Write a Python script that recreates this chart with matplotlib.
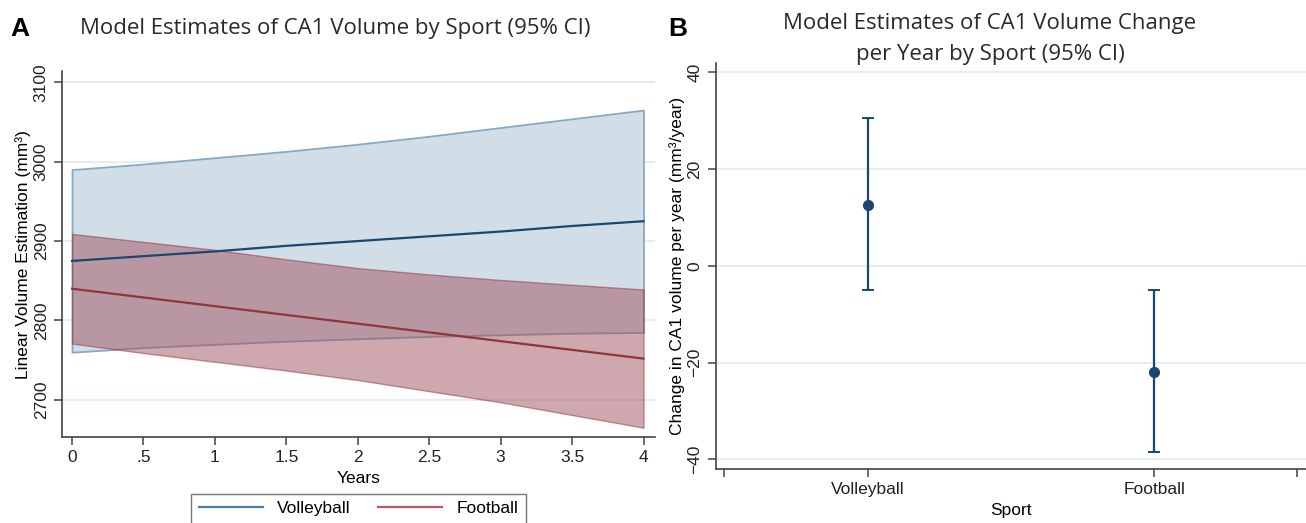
import numpy as np
import matplotlib
matplotlib.use('Agg')
import matplotlib.pyplot as plt
from matplotlib.lines import Line2D

plt.rcParams['font.family'] = ['Liberation Sans', 'DejaVu Sans']

# panel A data
years = [0, 0.5, 1, 1.5, 2, 2.5, 3, 3.5, 4]
vb_mean = [2875, 2881, 2887, 2894, 2900, 2906, 2912, 2919, 2925]
vb_upper = [2990, 2997, 3005, 3013, 3022, 3032, 3043, 3054, 3065]
vb_lower = [2760, 2766, 2770, 2774, 2777, 2780, 2782, 2784, 2785]
fb_mean = [2840, 2829, 2818, 2807, 2796, 2785, 2774, 2763, 2752]
fb_upper = [2909, 2899, 2889, 2877, 2866, 2858, 2851, 2845, 2839]
fb_lower = [2771, 2759, 2748, 2737, 2725, 2711, 2697, 2681, 2665]

# panel B data
sports = ['Volleyball', 'Football']
slope = [12.5, -22.0]
slope_lo = [-5.0, -38.5]
slope_hi = [30.5, -5.0]

BLUE = '#1a476f'
RED = '#90353b'
GRID = '#e6edf1'
AXC = '#444444'

fig = plt.figure(figsize=(13.06, 5.23), dpi=100)

# ---- panel A
ax = fig.add_axes([0.0475, 0.164, 0.454, 0.700])
ax.fill_between(years, vb_lower, vb_upper, facecolor='#d2dee7', edgecolor='#86aac4', linewidth=1.3, zorder=2)
ax.fill_between(years, fb_lower, fb_upper, facecolor='#a0505f', alpha=0.5, edgecolor=RED, linewidth=1.0, zorder=3)
ax.plot(years, vb_mean, color=BLUE, linewidth=1.6, zorder=4)
ax.plot(years, fb_mean, color=RED, linewidth=1.6, zorder=4)
ax.set_xlim(-0.07, 4.08)
ax.set_ylim(2653, 3114)
ax.set_xticks([0, 0.5, 1, 1.5, 2, 2.5, 3, 3.5, 4])
ax.set_xticklabels(['0', '.5', '1', '1.5', '2', '2.5', '3', '3.5', '4'])
ax.set_yticks([2700, 2800, 2900, 3000, 3100])
for lab in ax.get_yticklabels():
    lab.set_rotation(90)
    lab.set_va('center')
ax.set_xlabel('Years', fontsize=12.5, labelpad=4)
ax.set_ylabel('Linear Volume Estimation (mm³)', fontsize=12.5, labelpad=2)

leg_handles = [Line2D([0], [0], color='#4f7aa3', lw=1.6),
               Line2D([0], [0], color='#b85a62', lw=1.6)]
leg = ax.legend(leg_handles, sports, loc='upper center', bbox_to_anchor=(0.5, -0.13),
                ncol=2, frameon=True, fancybox=False, fontsize=12.5, handlelength=3.7,
                columnspacing=1.6, borderpad=0.45)
leg.get_frame().set_edgecolor('#555555')
leg.get_frame().set_linewidth(1.0)

fig.text(0.008, 0.945, 'A', fontsize=19, fontweight='bold', va='center')
fig.text(0.257, 0.945, 'Model Estimates of CA1 Volume by Sport (95% CI)',
         fontsize=16, family=['Open Sans', 'DejaVu Sans'], ha='center', va='center', color='#2a2a2a')

# ---- panel B
bx = fig.add_axes([0.548, 0.103, 0.452, 0.777])
xpos = np.arange(1, len(sports) + 1)
err = [np.array(slope) - np.array(slope_lo), np.array(slope_hi) - np.array(slope)]
bx.errorbar(xpos, slope, yerr=err, fmt='o', color=BLUE, ecolor=BLUE, markersize=7,
            elinewidth=1.6, capsize=4, capthick=1.4, zorder=4)
bx.set_xlim(0.47, 2.53)
bx.set_ylim(-42, 42)
bx.set_xticks([0.5, 1, 2, 2.5])
bx.set_xticklabels(['', 'Volleyball', 'Football', ''])
bx.set_yticks([-40, -20, 0, 20, 40])
for lab in bx.get_yticklabels():
    lab.set_rotation(90)
    lab.set_va('center')
bx.set_xlabel('Sport', fontsize=12.5, labelpad=4)
bx.set_ylabel('Change in CA1 volume per year (mm³/year)', fontsize=12.5, labelpad=2)

fig.text(0.512, 0.945, 'B', fontsize=19, fontweight='bold', va='center')
fig.text(0.758, 0.925, 'Model Estimates of CA1 Volume Change\nper Year by Sport (95% CI)',
         fontsize=16, family=['Open Sans', 'DejaVu Sans'], ha='center', va='center',
         color='#2a2a2a', linespacing=1.6)

for a in (ax, bx):
    a.spines['top'].set_visible(False)
    a.spines['right'].set_visible(False)
    a.spines['left'].set_color(AXC)
    a.spines['bottom'].set_color(AXC)
    a.spines['left'].set_linewidth(1.2)
    a.spines['bottom'].set_linewidth(1.2)
    a.yaxis.grid(True, color=GRID, linewidth=1.5, zorder=0)
    a.set_axisbelow(True)
    a.tick_params(axis='both', direction='out', length=6, width=1.1, color=AXC,
                  labelsize=12.5, labelcolor='#222222')

fig.savefig('out.png', dpi=100)
